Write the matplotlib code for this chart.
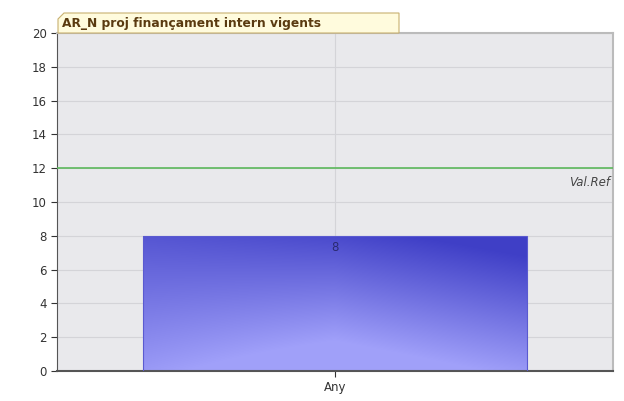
import numpy as np
import matplotlib
matplotlib.use("Agg")
import matplotlib.pyplot as plt
from matplotlib.patches import Polygon

categories = ["Any"]
values = [8]
ref_value = 12
ref_label = "Val.Ref"
title = "AR_N proj finançament intern vigents"

W, H = 624, 401
fig = plt.figure(figsize=(W / 100, H / 100), dpi=100)
ax = fig.add_axes([57 / W, 1 - 371 / H, (613 - 57) / W, (371 - 33) / H])
ax.set_facecolor("#e9e9ec")

x = np.arange(len(categories))
bars = ax.bar(x, values, width=0.69, color="none", edgecolor="#5a5ad0", lw=0.8, zorder=3)

# gradient fill: dark blue top-right, pale lavender near bottom middle
gy, gx = np.mgrid[0:1:200j, 0:1:300j]
dark = np.array([0.25, 0.25, 0.78])
light = np.array([0.63, 0.63, 0.98])
t = np.clip(gy * (0.7 + 0.4 * gx) - 0.25 * (1 - gy) * (1 - 2 * np.abs(gx - 0.5)) + 0.15 * np.abs(gx - 0.5), 0, 1)
img = light[None, None, :] * (1 - t[..., None]) + dark[None, None, :] * t[..., None]
for b in bars:
    x0, w, h = b.get_x(), b.get_width(), b.get_height()
    im = ax.imshow(img, extent=[x0, x0 + w, 0, h], origin="lower", aspect="auto", zorder=2)
    im.set_clip_path(b)
    ax.text(b.get_x() + w / 2, h - 0.3, f"{h:g}", ha="center", va="top",
            fontsize=8.5, color="#2a2a70", zorder=4)

ax.axhline(ref_value, color="#5cb85c", lw=1.2, zorder=4)
ax.text(0.5 - 0.006, ref_value - 0.45, ref_label, ha="right", va="top",
        fontsize=8.5, style="italic", color="#444444", zorder=4)

ax.set_xlim(-0.5, 0.5)
ax.set_ylim(0, 20)
ax.set_yticks(range(0, 21, 2))
ax.set_xticks(x)
ax.set_xticklabels(categories)
ax.grid(True, color="#d4d4d8", lw=0.8, zorder=1)
ax.set_axisbelow(True)
ax.tick_params(labelsize=8.5, colors="#333333", length=4)
ax.spines["top"].set_color("#bbbbbb")
ax.spines["top"].set_linewidth(1.5)
ax.spines["right"].set_color("#bbbbbb")
ax.spines["right"].set_linewidth(1.5)
ax.spines["left"].set_color("#555555")
ax.spines["bottom"].set_color("#555555")
ax.spines["bottom"].set_linewidth(1.5)

# title tab with cut top-left corner
px = [58, 58, 64, 399, 399]
py = [33, 19, 13, 13, 33]
tab = Polygon([(a / W, 1 - b / H) for a, b in zip(px, py)], closed=True,
              transform=fig.transFigure, facecolor="#fffbdd",
              edgecolor="#c8b070", lw=0.8, zorder=5)
fig.patches.append(tab)
fig.text(62 / W, 1 - 24 / H, title, ha="left", va="center", fontsize=8.8,
         fontweight="bold", color="#5a3a10", zorder=6)

fig.savefig("out.png", dpi=100)
